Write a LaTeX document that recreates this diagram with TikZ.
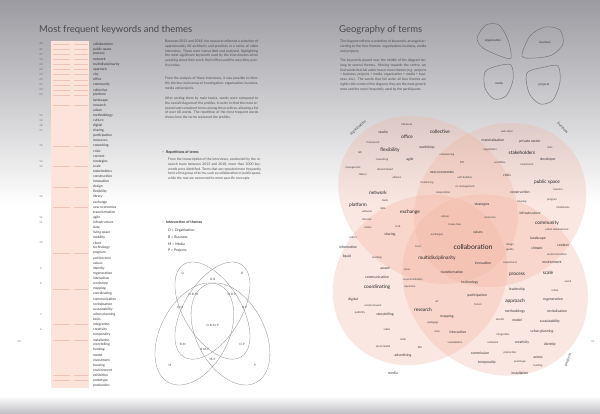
\documentclass[tikz,border=0pt]{standalone}
\usepackage{fontspec}
\setmainfont{Lato}
\definecolor{bar}{RGB}{252,228,218}
\definecolor{barline}{RGB}{238,196,182}
\definecolor{blob}{RGB}{242,178,158}
\definecolor{topgray}{RGB}{155,155,161}
\definecolor{botgray}{RGB}{190,190,195}
\begin{document}
\begin{tikzpicture}[x=1pt,y=-1pt,
  title/.style={font=\fontsize{9.5}{10}\selectfont, text=black!70, inner sep=0pt, anchor=base west},
  para/.style={font=\fontsize{3.4}{4.75}\selectfont, text=black!70, inner sep=0pt, anchor=north west, align=justify},
  head/.style={font=\fontsize{3.6}{4.75}\selectfont\bfseries, text=black!80, inner sep=0pt, anchor=west},
  kw/.style={font=\fontsize{3.4}{3.4}\selectfont, text=black!80, inner sep=0pt, anchor=west},
  kwnum/.style={font=\fontsize{2.6}{2.6}\selectfont, text=black!60, inner sep=0pt},
  barstroke/.style={draw=barline, line width=0.3pt, dash pattern=on 17pt off 4pt},
  vennline/.style={draw=black!45, line width=0.3pt},
  vlab/.style={font=\fontsize{3}{3}\selectfont, text=black!70, inner sep=0pt},
  petal/.style={draw=black!55, line width=0.45pt},
  plab/.style={font=\fontsize{3}{3}\selectfont, text=black!80, inner sep=0pt},
  blobfill/.style={fill=blob, fill opacity=0.3},
  theme/.style={font=\fontsize{3.8}{3.8}\selectfont, text=black!70, inner sep=0pt},
  wt/.style={font=\fontsize{2.7}{2.7}\selectfont, text=black!75, inner sep=0pt},
  ws/.style={font=\fontsize{3.5}{3.5}\selectfont, text=black!80, inner sep=0pt},
  wm/.style={font=\fontsize{4.8}{4.8}\selectfont, text=black!85, inner sep=0pt},
  wl/.style={font=\fontsize{6.8}{6.8}\selectfont, text=black!85, inner sep=0pt}]
\useasboundingbox (0,0) rectangle (600,414);
\shade[top color=topgray, bottom color=white] (0,0) rectangle (600,205);
\fill[white] (0,205) rectangle (600,396);
\shade[top color=white, bottom color=botgray] (0,396) rectangle (600,414);

% left page
\node[title] (ttl) at (39,33) {Most frequent keywords and themes};
\fill[bar] (51,41) rectangle (89,388);
\foreach \n in {1,...,11,13,...,19,21,...,23,25,...,31,33,...,40,42,...,47,49,...,57,59,...,63,66,67}
  \draw[barstroke] (53,{44+(\n-1)*5.1}) -- (88,{44+(\n-1)*5.1});
\foreach \w [count=\n] in {collaboration, public space, process, network, multidisciplinarity, approach, city, office, community, collective, platform, landscape, research, urban, methodology, culture, digital, sharing, participation, resources, coworking, crisis, context, strategies, scale, stakeholders, construction, innovation, design, flexibility, library, exchange, new economies, transformation, agile, infrastructure, data, living space, mobility, client, technology, program, architecture, values, identity, regeneration, interaction, workshop, mapping, coordinating, communication, revitalisation, sustainability, urban planning, tools, integration, creativity, temporality, installation, storytelling, funding, model, investment, housing, environment, exhibition, prototype, production}
  \node[kw] (kw\n) at (93,{44+(\n-1)*5.1}) {\w};
\foreach \n/\v in {1/48, 2/41, 3/37, 4/33, 5/30, 6/28, 7/27, 8/25, 9/24, 10/23, 11/22, 15/19, 16/18, 17/18, 18/17, 21/15, 24/14, 25/14, 31/12, 35/11, 36/11, 40/10, 45/9, 48/8, 54/7, 57/6}
  \node[kwnum] (nr\n) at (41,{44+(\n-1)*5.1}) {\v};
\node[kwnum] (pgl) at (19,342) {50};

\node[para, text width=93pt] (p1) at (165,40) {Between 2013 and 2018, the research collected a selection of approximately 60 architects and practices in a series of video interviews. These were transcribed and analysed, highlighting the most significant keywords used by the interviewees when speaking about their work, their offices and the ways they practise today.};
\node[para, text width=93pt] (p2) at (165,77) {From the analysis of these interviews, it was possible to identify the four main areas of investigation: organisation, business, media and projects.};
\node[para, text width=93pt] (p3) at (165,97) {After sorting them by main topics, words were compared to the overall diagram of the profiles, in order to find the most repeated and consistent terms among the practices, allowing a list of over 60 words. The repetition of the most frequent words shows how the terms represent the profiles.};
\node[head] (h1) at (162,152) {--\enspace Repetitions of terms};
\node[para, text width=93pt] (p4) at (168,158) {From the transcription of the interviews, conducted by the research team between 2013 and 2018, more than 2000 keywords were identified. Terms that are repeated more frequently form a first group of terms, such as collaboration or public space, while the rest are connected to more specific concepts.};
\node[head] (h2) at (162,222) {--\enspace Intersection of themes};
\foreach \t [count=\n] in {O = Organisation, B = Business, M = Media, P = Projects}
  \node[head, font=\fontsize{3.5}{4}\selectfont] (lg\n) at (168,{231+(\n-1)*6.6}) {\t};

\foreach \cu/\cv/\b/\r in {0.5/0.58/0.2/135, 0.5/0.58/0.2/45, 0.36/0.44/0.24/45, 0.64/0.44/0.24/135}
  \draw[vennline] plot[variable=\t, domain=0:355, samples=72, smooth cycle]
    ({148.0+128.9*(\cu+0.36*cos(\t)*cos(\r)-\b*sin(\t)*sin(\r))},
     {407.4-166.9*(\cv+0.36*cos(\t)*sin(\r)+\b*sin(\t)*cos(\r))});
\foreach \x/\y/\t [count=\n] in {182.8/273.9/O, 242.1/273.9/B, 212.5/279/O-B, 180.2/307.3/O-M, 193.1/294.5/O-B-M, 231.8/294.5/O-B-P, 244.7/307.3/B-P, 212.5/325/O-B-M-P, 182.8/344/B-M, 204.7/349/B-M-P, 242.1/344/O-P, 212.5/359/M-P, 169.9/365.7/M, 255/365.7/P}
  \node[vlab] (v\n) at (\x,\y) {\t};

% right page
\node[title] (ttr) at (339,33) {Geography of terms};
\node[para, text width=86pt] (q1) at (340,40) {The diagram reflects a selection of keywords, arranged according to the four themes: organisation, business, media and projects.};
\node[para, text width=86pt] (q2) at (340,59) {The keywords placed near the middle of the diagram belong to several themes. Moving towards the centre, we find words that fall under two or more themes (e.g. projects + business, projects + media, organisation + media + business, etc.). The words that fall under all four themes are right in the centre of the diagram; they are the most generic ones and the most frequently used by the participants.};

\draw[petal] plot[smooth cycle] coordinates {(477,38) (486,25) (499,25) (508,40) (511,58) (500,56) (483,48)};
\draw[petal] plot[smooth cycle] coordinates {(522,56) (530,36) (545,27) (560,30) (563,44) (552,55) (535,58)};
\draw[petal] plot[smooth cycle] coordinates {(485,72) (497,66) (511,65) (513,80) (506,96) (494,99) (485,88)};
\draw[petal] plot[smooth cycle] coordinates {(527,73) (545,67) (558,66) (560,82) (553,100) (540,104) (529,93)};
\node[plab] (po) at (493,41) {organisation};
\node[plab] (pb) at (545,42) {business};
\node[plab] (pm) at (499,83) {media};
\node[plab] (pp) at (544,85) {projects};

\fill[blobfill, shift={(428,200)}, rotate=-35] (0,0) ellipse (95 and 78);
\fill[blobfill, shift={(500,205)}, rotate=35] (0,0) ellipse (90 and 78);
\fill[blobfill, shift={(420,280)}, rotate=40] (0,0) ellipse (92 and 80);
\fill[blobfill, shift={(495,285)}, rotate=-40] (0,0) ellipse (98 and 85);
\node[theme, rotate=42] (tho) at (358,128) {organisation};
\node[theme, rotate=-48] (thb) at (563,128) {business};
\node[theme, rotate=68] (thp) at (568,360) {projects};
\node[theme] (thm) at (393,373) {media};

\foreach \x/\y/\s/\w [count=\n] in {
  407/125/wt/literature, 383/132/ws/studio, 407/137/wm/office, 440/132/wm/collective,
  373/143/wt/framework, 390/150/wm/flexibility, 427/148/ws/workshop, 360/153/wt/lab,
  382/160/wt/coworking, 410/160/ws/agile, 353/168/wt/management, 385/170/wt/decentralised,
  363/175/wt/labour, 397/178/wt/alliance, 447/155/wt/empowering, 462/163/wt/DIY,
  442/172/ws/new economies, 465/178/wt/self-builders, 427/183/wt/freelancing,
  465/187/wt/co-management, 443/193/wt/cooperation,
  507/132/wt/web store, 493/140/ws/materialisation, 530/142/ws/private sector,
  490/150/wt/negotiation, 522/153/wm/stakeholders, 550/148/wt/fees, 548/160/ws/developer,
  500/163/wt/workflow, 527/165/wt/investment, 507/175/ws/crisis, 547/182/wm/public space,
  520/192/ws/construction, 558/190/wt/tourism, 522/202/wt/housing, 552/200/wt/program,
  563/208/wt/inhabitants, 530/213/ws/infrastructure, 547/223/wm/community,
  557/230/wt/urban development, 538/239/ws/landscape, 537/248/ws/climate, 563/245/ws/context,
  557/255/wt/social innovation, 552/262/ws/environment, 548/273/wm/scale,
  378/193/wm/network, 358/205/wm/platform, 385/201/wt/tools, 367/212/wt/software,
  383/209/wt/data, 367/220/wt/internet, 368/228/wt/online, 410/212/wm/exchange,
  445/217/wt/culture, 455/225/wt/know-how, 482/205/ws/strategies, 490/218/wt/resources,
  398/227/wt/hub, 390/235/ws/sharing, 437/235/wt/exchanges, 478/232/ws/values,
  473/247/wl/collaboration, 418/247/wt/trust, 437/258/wm/multidisciplinarity,
  483/263/ws/innovation, 510/245/wt/design, 510/250/wt/quality, 510/263/wt/experiment,
  517/275/wm/process, 452/272/ws/transformation, 470/283/ws/technology, 407/270/wt/value,
  413/280/wt/experimentation, 410/287/wt/openness,
  353/238/wt/collect, 348/247/ws/information, 347/257/ws/liquid, 377/258/wt/working,
  385/268/ws/award, 377/277/ws/communication, 377/287/wm/coordinating,
  477/296/ws/participation, 478/305/wt/forum, 517/290/ws/leadership, 515/301/wm/approach,
  515/312/ws/methodology, 500/320/wt/tool kit, 517/320/ws/model, 553/300/ws/regeneration,
  557/311/ws/revitalisation, 550/322/ws/sustainability, 568/282/wt/social, 555/291/wt/urban,
  353/300/ws/digital, 373/306/wt/social network, 360/313/wt/publicity, 385/315/ws/storytelling,
  423/310/wm/research, 437/302/wt/art, 447/317/ws/mapping, 433/323/wt/pedagogy,
  387/330/wt/video, 403/340/wt/radio, 437/332/wt/map, 458/332/ws/interaction,
  455/343/wt/visualisation, 383/347/wt/social media, 420/348/wt/film, 403/356/ws/advertising,
  503/335/wt/integration, 542/332/ws/urban planning, 493/343/wt/urbanism, 522/343/ws/creativity,
  550/345/ws/identity, 480/353/ws/commission, 510/353/wt/production, 538/357/ws/actors,
  487/363/ws/temporality, 520/362/wt/prototype, 538/366/wt/funding, 520/373/ws/installation}
  \node[\s] (cw\n) at (\x,\y) {\w};
\node[kwnum] (pgr) at (593,342) {51};
\end{tikzpicture}
\end{document}
